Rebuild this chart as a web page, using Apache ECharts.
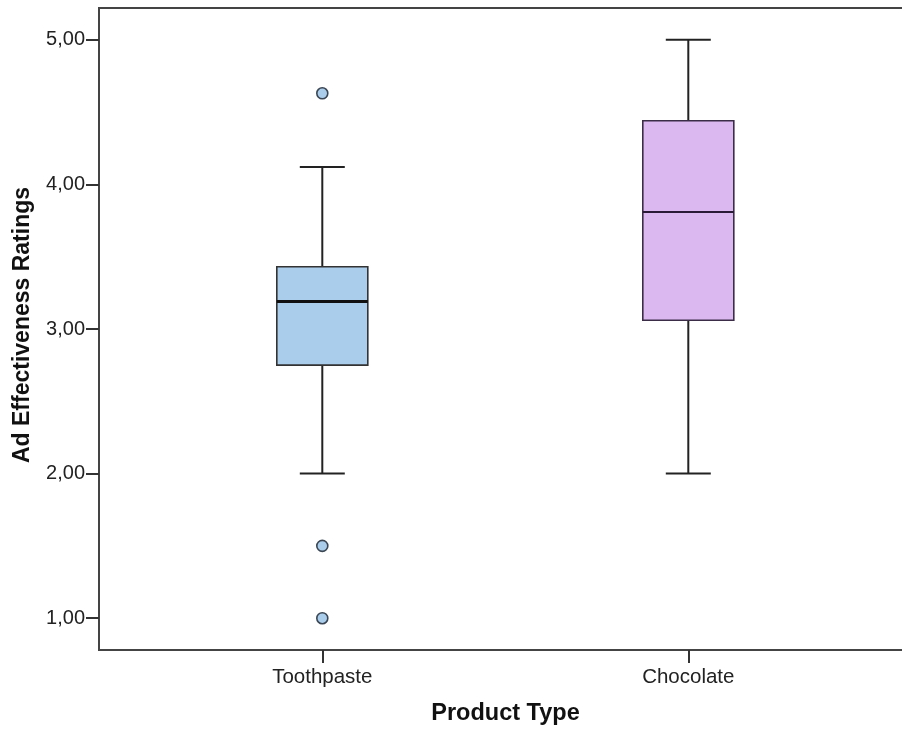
<!DOCTYPE html>
<html>
<head>
<meta charset="utf-8">
<script src="https://cdn.jsdelivr.net/npm/echarts@6/dist/echarts.min.js"></script>
<style>
html,body{margin:0;padding:0;background:#fff;}
#chart{width:902px;height:733px;}
</style>
</head>
<body>
<div id="chart"></div>
<script>
// ---- data ----
const categories = ['Toothpaste', 'Chocolate'];
const lowWhisker = [2.00, 2.00];
const q1 = [2.75, 3.06];
const median = [3.19, 3.81];
const q3 = [3.43, 4.44];
const highWhisker = [4.12, 5.00];
const outlierCategory = ['Toothpaste', 'Toothpaste', 'Toothpaste'];
const outlierValues = [4.63, 1.50, 1.00];
const yTicks = [1, 2, 3, 4, 5];
const yTitle = 'Ad Effectiveness Ratings';
const xTitle = 'Product Type';

// ---- styles ----
const fills = ['#abcdec', '#dbb8f0'];
const borders = ['#333333', '#3b2d48'];
const medianWidths = [3, 2];
const medianColors = ['#111111', '#2a1a38'];
const FONT = '"Liberation Sans", Arial, sans-serif';
const yMin = 0.78, yMax = 5.22;

const boxData = categories.map((c, i) => [i, lowWhisker[i], q1[i], median[i], q3[i], highWhisker[i]]);
const outData = outlierValues.map((v, i) => [outlierCategory[i], v]);

function renderBox(params, api) {
  const i = api.value(0);
  const x = api.coord([i, api.value(3)])[0];
  const yLo = api.coord([i, api.value(1)])[1];
  const yQ1 = api.coord([i, api.value(2)])[1];
  const yMed = api.coord([i, api.value(3)])[1];
  const yQ3 = api.coord([i, api.value(4)])[1];
  const yHi = api.coord([i, api.value(5)])[1];
  const hw = 45.5, cw = 22.5;
  const lineStyle = {stroke: '#222222', lineWidth: 2};
  return {
    type: 'group',
    children: [
      {type: 'line', shape: {x1: x, y1: yLo, x2: x, y2: yQ1}, style: lineStyle},
      {type: 'line', shape: {x1: x, y1: yQ3, x2: x, y2: yHi}, style: lineStyle},
      {type: 'line', shape: {x1: x - cw, y1: yLo, x2: x + cw, y2: yLo}, style: lineStyle},
      {type: 'line', shape: {x1: x - cw, y1: yHi, x2: x + cw, y2: yHi}, style: lineStyle},
      {type: 'rect', shape: {x: x - hw, y: yQ3, width: 2 * hw, height: yQ1 - yQ3},
        style: {fill: fills[i], stroke: borders[i], lineWidth: 1.6}},
      {type: 'line', shape: {x1: x - hw, y1: yMed, x2: x + hw, y2: yMed},
        style: {stroke: medianColors[i], lineWidth: medianWidths[i]}}
    ]
  };
}

const chart = echarts.init(document.getElementById('chart'), null, {renderer: 'canvas'});
chart.setOption({
  animation: false,
  backgroundColor: '#ffffff',
  grid: [
    {left: 99, top: 8, width: 813, height: 642, outerBoundsMode: 'none', containLabel: false,
      show: true, borderColor: '#444444', borderWidth: 2, backgroundColor: 'transparent'},
    {left: 139.3, width: 732, top: 8, height: 642, outerBoundsMode: 'none', containLabel: false}
  ],
  xAxis: [
    {gridIndex: 0, type: 'value', min: 0, max: 1,
      axisLine: {show: false}, axisTick: {show: false}, axisLabel: {show: false}, splitLine: {show: false},
      name: xTitle, nameLocation: 'middle', nameGap: 52,
      nameTextStyle: {fontFamily: FONT, fontSize: 23.5, fontWeight: 'bold', color: '#111111'}},
    {gridIndex: 1, type: 'category', data: categories, boundaryGap: true,
      axisLine: {show: false},
      axisTick: {show: true, alignWithLabel: true, length: 13, lineStyle: {color: '#333333', width: 2}},
      axisLabel: {fontFamily: FONT, fontSize: 20.5, color: '#222222', margin: 17},
      splitLine: {show: false}}
  ],
  yAxis: [
    {gridIndex: 0, type: 'value', min: yMin, max: yMax,
      axisLine: {show: false},
      axisTick: {show: true, length: 13, customValues: yTicks, lineStyle: {color: '#333333', width: 2}},
      axisLabel: {customValues: yTicks, fontFamily: FONT, fontSize: 20, color: '#222222', margin: 14,
        formatter: v => v.toFixed(2).replace('.', ',')},
      splitLine: {show: false},
      name: yTitle, nameLocation: 'middle', nameGap: 65, nameRotate: 90,
      nameTextStyle: {fontFamily: FONT, fontSize: 23, fontWeight: 'bold', color: '#111111', padding: [0, 0, 0, 8]}},
    {gridIndex: 1, type: 'value', min: yMin, max: yMax, show: false}
  ],
  series: [
    {type: 'custom', xAxisIndex: 1, yAxisIndex: 1, data: boxData, renderItem: renderBox,
      encode: {x: 0, y: [1, 2, 3, 4, 5]}},
    {type: 'scatter', xAxisIndex: 1, yAxisIndex: 1, data: outData, symbol: 'circle', symbolSize: 11,
      itemStyle: {color: '#abcdec', borderColor: '#3a4654', borderWidth: 1.6, opacity: 1}}
  ]
});
</script>
</body>
</html>
